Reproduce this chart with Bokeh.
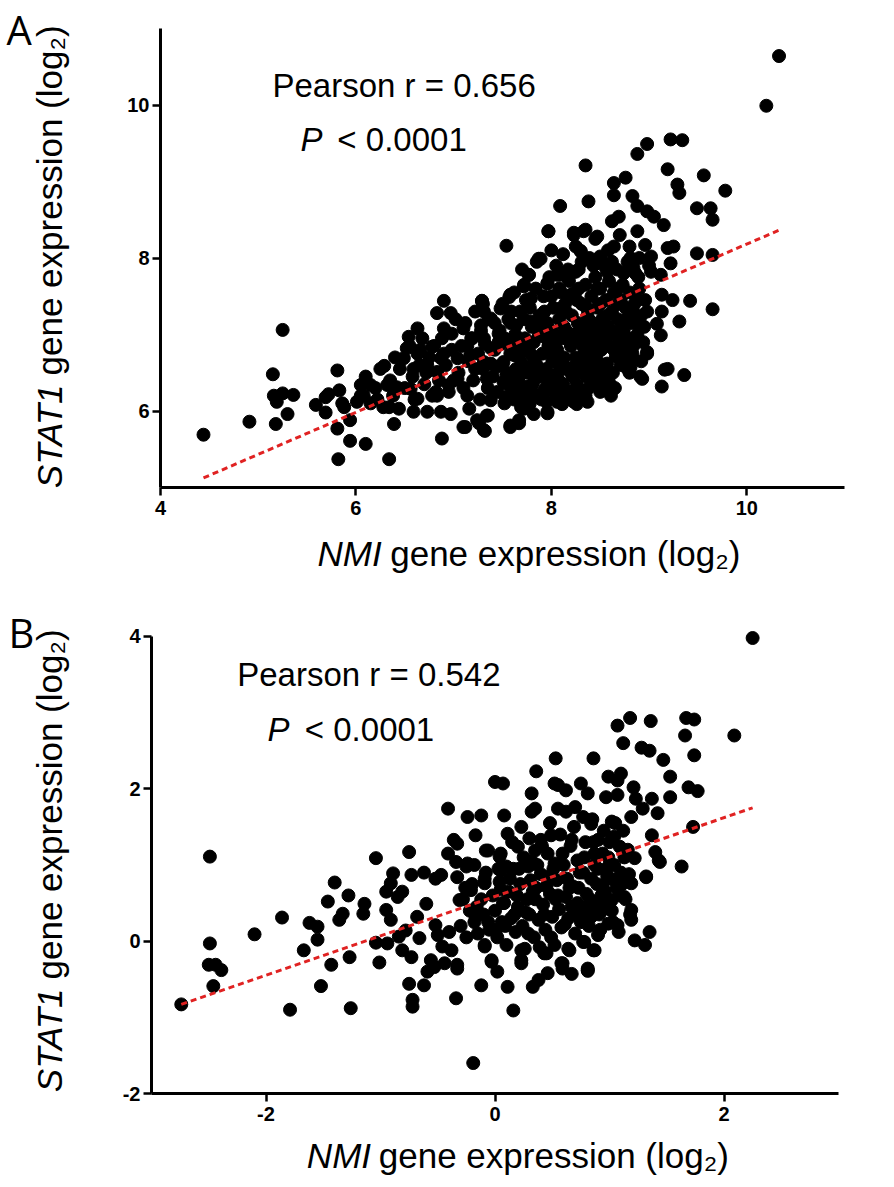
from bokeh.plotting import figure
from bokeh.layouts import column, row
from bokeh.models import Label, Range1d, FixedTicker
from bokeh.embed import file_html
from bokeh.resources import INLINE

# ---------------- Panel A data (NMI vs STAT1, log2) ----------------
a_left_x = [4.44, 4.91, 5.25, 5.15, 5.18, 5.30, 5.16, 5.25, 5.36, 5.19,
            5.59, 5.69, 5.69, 5.81, 5.83, 5.86, 5.81, 5.94, 5.82, 5.94,
            6.10, 6.34, 6.39, 6.01, 6.05, 6.15, 6.08, 6.29, 6.32, 6.42,
            6.34, 6.44, 6.05, 6.10, 6.15, 6.20, 6.25, 6.28, 6.35, 6.38,
            6.40, 5.72, 5.88, 6.22]
a_left_y = [5.69, 5.86, 7.06, 6.48, 5.83, 5.96, 6.20, 6.23, 6.21, 6.12,
            6.08, 6.18, 5.98, 6.53, 6.27, 6.10, 5.77, 5.88, 5.37, 5.61,
            5.57, 5.37, 5.83, 6.12, 6.34, 6.34, 6.20, 6.59, 6.34, 6.31,
            6.05, 6.03, 6.20, 6.45, 6.10, 6.30, 6.55, 6.05, 6.40, 6.20,
            6.70, 6.22, 6.05, 6.15]

a_mid_x = [6.49, 6.54, 6.63, 6.52, 6.63, 6.59, 6.56, 6.63, 6.59, 6.73,
           6.78, 6.73, 6.83, 6.87, 6.83, 6.90, 6.97, 6.90, 6.98, 6.88,
           6.83, 6.87, 6.97, 6.95, 7.04, 7.04, 7.10, 7.10, 7.17, 7.14,
           7.16, 7.19, 7.24, 7.31, 7.34, 7.29, 7.31, 7.38, 7.28, 7.31,
           7.38, 7.31, 7.34, 7.38, 7.12, 7.32, 7.26, 7.35, 6.45, 6.50,
           6.55, 6.60, 6.65, 6.68, 6.70, 6.75, 6.78, 6.80, 6.85, 6.88,
           6.92, 6.95, 6.98, 7.05, 7.08, 7.10, 7.12, 7.15, 7.18, 7.20,
           7.22, 7.25, 7.27, 7.28, 7.30, 7.32, 7.35, 7.36, 7.38,
           6.58, 6.66, 6.72, 6.82, 6.90, 7.00, 7.02, 7.14, 7.22, 7.30]
a_mid_y = [6.69, 6.97, 7.08, 6.82, 6.75, 6.55, 6.29, 6.16, 5.99, 5.99,
           6.84, 6.60, 6.51, 6.69, 7.28, 7.44, 7.28, 7.08, 7.01, 5.64,
           6.20, 5.99, 5.96, 6.34, 6.69, 6.42, 5.79, 7.08, 6.73, 6.20,
           6.03, 6.95, 5.88, 5.75, 5.94, 7.44, 7.30, 7.21, 7.12, 6.95,
           6.82, 6.64, 6.42, 6.14, 5.79, 5.74, 5.84, 5.94, 6.55, 6.30,
           6.85, 6.15, 6.60, 6.95, 6.35, 6.70, 6.20, 6.85, 6.40, 6.95,
           6.60, 6.25, 6.80, 6.50, 6.85, 6.30, 7.15, 6.65, 6.95, 6.40,
           7.30, 6.75, 6.15, 7.05, 6.55, 6.88, 6.30, 7.20, 6.62,
           6.45, 6.80, 6.50, 6.25, 6.75, 6.40, 7.20, 6.85, 6.55, 7.40]

a_core_x = [7.48, 7.57, 7.54, 7.46, 7.58, 7.62, 7.51, 7.51, 7.58, 7.58,
            7.67, 7.72, 7.68, 7.72, 7.77, 7.87, 7.97, 7.79, 7.79, 7.80,
            7.82, 7.82, 7.82, 7.96, 7.96, 8.06, 8.23, 8.33, 8.30, 8.25,
            8.09, 7.99, 8.06, 8.09, 8.06, 8.23, 8.31, 8.23, 8.30, 8.20,
            8.43, 8.40, 8.40, 7.58, 7.67, 7.96, 7.76, 8.11, 8.26, 8.37,
            7.88,
            7.40, 7.42, 7.45, 7.47, 7.50, 7.52, 7.55, 7.56, 7.58, 7.60,
            7.62, 7.63, 7.65, 7.66, 7.68, 7.70, 7.71, 7.73, 7.74, 7.76,
            7.77, 7.78, 7.80, 7.81, 7.82, 7.84, 7.85, 7.86, 7.88, 7.89,
            7.90, 7.91, 7.92, 7.94, 7.95, 7.96, 7.97, 7.98, 8.00, 8.01,
            8.02, 8.03, 8.04, 8.05, 8.06, 8.07, 8.08, 8.10, 8.11, 8.12,
            8.13, 8.14, 8.15, 8.16, 8.18, 8.19, 8.20, 8.21, 8.22, 8.23,
            8.24, 8.25, 8.26, 8.27, 8.28, 8.29, 8.30, 8.31, 8.32, 8.33,
            8.34, 8.35, 8.36, 8.37, 8.38, 8.39, 8.40, 8.41, 8.42, 8.43,
            8.44, 8.45, 8.46, 8.47, 8.48, 8.49, 8.50, 8.51, 8.52, 8.53,
            8.54, 8.55, 8.56, 8.57, 8.58, 8.59, 8.60, 8.62, 8.63, 8.64,
            8.65, 8.66, 8.67, 8.68, 8.70, 8.71, 8.72, 8.73, 8.74, 8.75,
            8.76, 8.78, 8.79, 8.80, 8.82, 8.83, 8.85, 8.86, 8.88, 8.90,
            8.92, 8.94, 8.96]
a_core_y = [7.34, 7.49, 8.16, 7.01, 7.15, 6.73, 6.64, 6.38, 6.20, 5.81,
            5.88, 6.03, 6.47, 7.63, 7.78, 7.99, 8.35, 7.47, 7.17, 6.73,
            6.47, 6.20, 5.96, 5.99, 7.67, 7.78, 8.30, 8.35, 8.09, 7.82,
            7.34, 6.95, 6.64, 6.38, 6.12, 6.12, 6.16, 6.95, 6.51, 7.52,
            6.47, 6.73, 7.17, 5.79, 5.84, 5.97, 6.04, 6.09, 6.09, 6.12,
            6.20,
            6.45, 6.80, 6.25, 7.05, 6.60, 6.95, 6.35, 7.20, 6.75, 6.50,
            6.15, 7.00, 6.88, 6.40, 7.30, 6.62, 6.25, 6.95, 7.45, 6.50,
            6.78, 6.10, 7.10, 6.35, 6.90, 7.60, 6.60, 6.20, 7.25, 6.45,
            7.00, 6.75, 7.50, 6.30, 6.55, 7.15, 6.85, 7.75, 6.40, 6.65,
            7.35, 7.00, 6.22, 7.90, 6.80, 6.50, 7.20, 7.55, 6.95, 6.35,
            6.70, 7.40, 7.05, 6.55, 7.70, 6.25, 6.85, 7.25, 6.45, 7.00,
            7.55, 6.70, 6.35, 7.15, 7.85, 6.90, 6.55, 7.40, 6.20, 7.05,
            6.75, 7.65, 6.45, 7.25, 6.95, 8.00, 6.60, 7.50, 6.85, 7.10,
            6.35, 7.75, 6.70, 7.35, 6.50, 7.00, 7.60, 6.80, 7.20, 6.40,
            7.90, 6.95, 7.45, 6.62, 7.10, 7.70, 6.85, 7.30, 6.50, 7.55,
            7.00, 6.72, 7.85, 7.20, 6.90, 7.45, 6.60, 7.65, 7.05, 6.80,
            7.35, 7.95, 6.95, 7.55, 7.15, 6.75, 7.40, 7.80, 7.00, 7.60,
            7.25, 6.90, 7.45]

a_fill_x = [7.44, 7.49, 7.53, 7.57, 7.61, 7.64, 7.67, 7.69, 7.72, 7.75,
            7.79, 7.83, 7.87, 7.90, 7.93, 7.97, 8.00, 8.03, 8.05, 8.08,
            8.12, 8.15, 8.18, 8.20, 8.23, 8.26, 8.29, 8.32, 8.35, 8.38,
            8.41, 8.44, 8.47, 8.50, 8.53, 8.56, 8.59, 8.62, 8.65, 8.68,
            8.71, 8.74, 8.77, 8.80, 8.83, 8.86, 8.89, 8.92, 8.95, 8.98,
            7.42, 7.50, 7.62, 7.70, 7.85, 8.00, 8.12, 8.25, 8.45, 8.58,
            8.70, 8.80, 8.90, 9.00,
            7.46, 7.54, 7.59, 7.64, 7.69, 7.74, 7.78, 7.83, 7.87, 7.92,
            7.95, 8.00, 8.04, 8.09, 8.13, 8.17, 8.21, 8.25, 8.28, 8.32,
            8.36, 8.39, 8.43, 8.46, 8.50, 8.54, 8.57, 8.61, 8.64, 8.68,
            8.72, 8.76, 8.80, 8.84, 8.88, 7.52, 7.95, 8.35, 8.60, 8.15]
a_fill_y = [6.58, 6.88, 6.18, 6.92, 6.30, 7.12, 6.70, 6.05, 7.20, 6.32,
            6.58, 6.42, 6.98, 6.15, 7.30, 6.48, 7.05, 6.72, 6.32, 7.60,
            6.60, 7.30, 6.95, 6.15, 6.58, 7.45, 6.28, 6.85, 7.12, 6.30,
            7.00, 6.58, 7.60, 6.25, 7.05, 6.85, 6.45, 7.95, 6.30, 7.40,
            6.62, 7.80, 7.20, 6.50, 7.35, 6.95, 7.75, 6.65, 7.10, 7.30,
            7.15, 7.40, 7.55, 7.85, 7.95, 8.10, 8.05, 8.15, 8.25, 8.10,
            8.30, 8.15, 8.00, 7.90,
            6.90, 6.48, 7.30, 6.55, 6.85, 6.15, 7.35, 6.68, 7.10, 6.25,
            6.95, 7.50, 6.90, 6.28, 7.10, 7.85, 6.48, 7.00, 7.60, 6.62,
            7.35, 6.85, 7.90, 6.95, 7.40, 6.60, 7.25, 7.05, 6.80, 7.60,
            7.10, 6.65, 7.25, 6.85, 7.45, 6.10, 6.12, 6.20, 6.35, 6.20]

a_upper_x = [10.33, 10.20, 8.98, 8.88, 9.22, 9.34, 8.35, 9.19, 9.56, 8.76,
             8.64, 9.29, 9.31, 9.78, 8.64, 8.83, 8.09, 8.38, 9.49, 8.88,
             8.98, 9.05, 9.65, 8.69, 8.62, 9.15, 8.88, 7.97, 8.23, 8.35,
             8.47, 8.64, 8.96, 9.19, 9.25, 9.49, 9.65, 8.30, 7.89, 8.31,
             8.50, 8.81, 9.02, 9.22, 8.84, 8.23, 7.77, 8.09, 8.57, 9.02,
             9.12, 7.96, 7.72, 7.58, 7.29, 9.42, 9.65, 9.24, 9.13, 9.13,
             9.31, 9.08, 9.12, 8.91, 8.84, 8.98, 8.81, 9.19, 9.36, 8.91,
             8.50, 8.78, 9.16, 9.13, 8.93, 8.81, 8.84, 8.98, 8.61, 8.55,
             8.49, 9.63]
a_upper_y = [10.64, 9.99, 9.49, 9.36, 9.55, 9.54, 9.21, 9.16, 9.08, 9.05,
             8.98, 8.96, 8.85, 8.88, 8.82, 8.81, 8.68, 8.74, 8.65, 8.68,
             8.61, 8.54, 8.50, 8.54, 8.48, 8.43, 8.35, 8.35, 8.33, 8.37,
             8.28, 8.15, 8.17, 8.13, 8.15, 8.06, 8.04, 8.09, 7.99, 7.95,
             8.02, 8.00, 8.02, 7.93, 7.87, 7.82, 7.78, 7.78, 7.82, 7.82,
             7.78, 7.67, 7.65, 7.52, 7.44, 7.44, 7.33, 7.45, 7.52, 7.30,
             7.17, 7.14, 6.99, 7.10, 6.90, 6.75, 6.69, 6.55, 6.47, 6.45,
             6.47, 6.55, 6.54, 6.32, 6.42, 6.57, 6.67, 6.77, 6.20, 6.32,
             6.37, 8.65]

# regression line (slope, intercept)
a_fit = (0.5498, 2.684)

# ---------------- Panel B data ----------------
b_outer_x = [-2.74, -2.49, -2.49, -2.50, -2.44, -2.39, -2.46, -2.10, -1.86, -1.79,
             -1.62, -1.55, -1.55, -1.67, -1.52, -1.43, -1.46, -1.40, -1.28, -1.33,
             -1.36, -1.27, -1.26, -1.14, -1.15, -1.04, -1.04, -1.01, -0.95, -0.89,
             -0.91, -0.85, -0.81, -0.95, -0.91, -0.94, -0.84, -0.81, -0.75, -0.73,
             -0.78, -0.73, -0.75, -0.72, -0.72, -0.62, -0.68, -0.66, -0.62, -0.60,
             -0.52, -0.47, -0.52, -0.50, -0.56, -0.59, -0.53, -0.44, -0.46, -0.41,
             -0.41, -0.36, -0.40, -0.38, -0.33, -0.34, -0.31, -0.33, -0.25, -0.24,
             -0.17, -0.12, -0.19, -0.12, -0.09, -0.03, 0.02, -0.08, -0.09, -0.21,
             -0.17, 0.00, 0.07, 0.08, 0.04, 0.10, 0.11, 0.16, 0.23, 0.23,
             0.32, 0.36, 0.33, 0.38, 0.45, 0.46, 0.53, 0.52, 0.59, 0.65,
             0.81, 0.77, 0.87, 0.86]
b_outer_y = [-0.83, 1.11, -0.03, -0.31, -0.31, -0.38, -0.59, 0.09, 0.31, -0.90,
             0.24, 0.19, 0.02, -0.12, -0.59, -0.31, 0.52, 0.77, 0.60, 0.36,
             0.28, -0.21, -0.88, 0.49, 0.36, 1.09, -0.02, -0.28, 0.65, 0.89,
             0.76, 0.58, 0.65, 0.41, 0.28, -0.03, 0.06, -0.12, 1.17, 0.87,
             0.14, -0.21, -0.56, -0.77, -0.86, 0.90, 0.32, 0.04, -0.58, 0.49,
             0.82, 0.87, 0.21, 0.08, -0.25, -0.40, -0.34, -0.29, -0.07, 1.74,
             1.15, 1.33, 0.12, -0.12, -0.36, -0.75, 0.54, 0.84, 0.98, 1.63,
             1.39, 1.65, -1.60, -0.58, -0.05, -0.25, -0.40, 1.19, 0.76, 0.67,
             0.32, 2.09, 2.07, 1.65, 1.11, 0.98, -0.60, -0.91, -0.29, -0.12,
             1.94, 2.23, -0.60, -0.51, -0.16, -0.42, 2.40, 2.07, -0.29, -0.12,
             -0.38, -0.01, -0.12, 2.40]

b_right_x = [1.18, 1.07, 1.36, 1.67, 1.74, 1.66, 2.09, 1.12, 1.28, 1.35,
             1.74, 1.47, 1.53, 0.99, 1.10, 0.55, 0.62, 0.75, 0.81, 1.07,
             1.21, 0.97, 1.07, 1.69, 1.77, 1.23, 1.37, 1.53, 0.32, 0.55,
             0.70, 0.35, 1.29, 1.42, 1.19, 0.77, 0.84, 1.02, 1.73, 0.23,
             0.11, 0.40, 0.49, 0.67, 0.90, 1.04, 1.37, 1.40, 1.44, 1.63,
             1.32, 1.22, 1.09, -0.06, 0.05, 0.20, 0.35, -0.33, -0.34, -0.24,
             -0.09, 0.05, 0.29, 0.52, 0.72, 0.87, 0.99, 1.19, 1.13, 1.19,
             1.19, 1.07, 1.35, 1.22, 1.31, 0.90, 0.78, 0.86, 0.64, 0.43,
             0.58, 0.81, 0.23, -0.09, -0.03, -0.33, 2.25, 1.43, 1.32, 0.94,
             1.02, 1.09, 0.94, 0.84, 0.99, 0.67, 0.59, 0.81]
b_right_y = [2.93, 2.83, 2.89, 2.93, 2.91, 2.70, 2.70, 2.60, 2.54, 2.50,
             2.44, 2.38, 2.16, 2.16, 2.20, 2.05, 1.98, 2.07, 1.94, 2.11,
             2.02, 1.89, 1.92, 2.02, 1.97, 1.87, 1.87, 1.89, 1.70, 1.74,
             1.76, 1.74, 1.74, 1.68, 1.63, 1.63, 1.54, 1.57, 1.50, 1.50,
             1.41, 1.33, 1.39, 1.33, 1.33, 1.37, 1.39, 1.17, 1.04, 0.98,
             0.85, 1.09, 1.24, 1.19, 1.15, 1.24, 1.19, 1.28, 1.04, 1.02,
             0.82, 0.93, 0.98, 1.02, 1.06, 1.15, 0.98, 0.76, 0.58, 0.41,
             0.28, 0.21, 0.12, 0.01, -0.05, 0.08, -0.01, -0.12, -0.10, -0.16,
             -0.29, -0.36, -0.25, -0.07, -0.27, -0.31, 3.98, 1.06, 0.84, 0.71,
             0.54, 0.76, 0.41, 0.32, 0.23, -0.43, -0.36, -0.39]

b_core_x = [-0.30, -0.28, -0.25, -0.22, -0.20, -0.18, -0.15, -0.12, -0.10, -0.08,
            -0.05, -0.02, 0.00, 0.02, 0.04, 0.06, 0.08, 0.10, 0.12, 0.14,
            0.16, 0.18, 0.20, 0.22, 0.24, 0.26, 0.28, 0.30, 0.32, 0.34,
            0.36, 0.38, 0.40, 0.42, 0.44, 0.46, 0.48, 0.50, 0.52, 0.54,
            0.56, 0.58, 0.60, 0.62, 0.64, 0.66, 0.68, 0.70, 0.72, 0.74,
            0.76, 0.78, 0.80, 0.82, 0.84, 0.86, 0.88, 0.90, 0.92, 0.94,
            0.96, 0.98, 1.00, 1.02, 1.04, 1.06, 1.08, 1.10, 1.12, 1.14,
            1.16, 1.18]
b_core_y = [0.20, 0.55, 0.05, 0.40, 0.75, 0.25, 0.10, 0.55, 0.35, 0.90,
            0.15, 0.60, 0.40, 0.05, 0.78, 0.25, 0.50, -0.05, 0.65, 0.30,
            0.95, 0.12, 0.45, 0.75, 0.20, -0.10, 0.55, 0.35, 1.05, 0.05,
            0.70, 0.28, 0.88, 0.48, 0.15, 1.15, 0.62, 0.32, -0.05, 0.80,
            0.42, 0.18, 1.00, 0.58, 0.30, 1.25, 0.72, 0.10, 0.50, 0.90,
            0.35, 1.10, 0.62, 0.20, 0.82, 1.30, 0.48, 0.95, 0.15, 1.15,
            0.65, 0.85, 1.30, 0.40, 1.00, 0.70, 0.12, 0.90, 1.45, 0.55,
            1.20, 0.35]

b_fill_x = [-0.26, -0.16, -0.06, 0.03, 0.09, 0.13, 0.19, 0.25, 0.27, 0.31,
            0.35, 0.39, 0.41, 0.45, 0.49, 0.51, 0.55, 0.57, 0.61, 0.63,
            0.67, 0.69, 0.73, 0.75, 0.79, 0.83, 0.85, 0.89, 0.91, 0.95,
            0.97, 1.01, 1.05, 1.09, 1.13, 1.17, 0.48, 0.62, 0.30, 0.15,
            -0.18, 0.05,
            0.01, 0.07, 0.17, 0.21, 0.29, 0.33, 0.37, 0.43, 0.47, 0.53,
            0.59, 0.65, 0.71, 0.77, 0.81, 0.87, 0.93, 0.99, 1.03, 1.11]
b_fill_y = [0.70, 0.45, 0.25, 0.95, 0.20, 0.82, 0.60, 1.10, 0.38, 0.80,
            0.55, -0.08, 1.25, 0.72, 0.05, 0.95, 0.60, 1.40, 0.22, 0.82,
            0.45, 1.50, 0.70, 0.25, 1.30, 0.55, 1.60, 0.75, 0.35, 1.45,
            0.50, 0.82, 1.55, 0.60, 1.10, 0.88, 1.55, 1.70, 1.35, 1.30,
            1.00, 0.68,
            0.15, 0.50, 0.35, 0.95, 0.10, 0.65, 1.00, 0.35, 0.85, 0.55,
            1.15, 0.70, 0.35, 0.90, 0.45, 1.00, 0.60, 1.10, 0.25, 0.75]

b_fit = (0.5172, 0.587)

# ---------------- styling ----------------
FONT = "Liberation Sans"
LETTER_FONT = "Open Sans"
RED = "#e02222"


def style_axes(p, xticks, yticks, xb, yb):
    p.xgrid.visible = False
    p.ygrid.visible = False
    p.outline_line_color = None
    p.background_fill_color = "white"
    p.border_fill_color = "white"
    p.xaxis.ticker = FixedTicker(ticks=xticks)
    p.yaxis.ticker = FixedTicker(ticks=yticks)
    p.xaxis.bounds = xb
    p.yaxis.bounds = yb
    for ax in (p.xaxis, p.yaxis):
        ax.axis_line_width = 3
        ax.axis_line_color = "black"
        ax.major_tick_line_width = 2.5
        ax.major_tick_line_color = "black"
        ax.major_tick_out = 8
        ax.major_tick_in = 0
        ax.minor_tick_line_color = None
        ax.major_label_text_font = FONT
        ax.major_label_text_font_style = "bold"
        ax.major_label_text_font_size = "20px"
        ax.major_label_text_color = "black"
        ax.major_label_overrides = {t: str(t) for t in (xticks + yticks) if t < 0}
    p.xaxis.major_label_standoff = 5
    p.yaxis.major_label_standoff = 3


def lab(p, x, y, text, size, style="normal", angle=0.0, align="left", font=FONT):
    p.add_layout(Label(x=x, y=y, text=text, text_font=font, text_font_size=size,
                       text_font_style=style, angle=angle, text_align=align,
                       text_baseline="alphabetic", text_color="black"))


def strip(w, h):
    # blank figure whose frame covers the whole canvas (pixel data units)
    s = figure(width=w, height=h, x_range=Range1d(0, w), y_range=Range1d(0, h),
               x_axis_location=None, y_axis_location=None,
               output_backend="svg", toolbar_location=None,
               min_border_left=0, min_border_right=0,
               min_border_top=0, min_border_bottom=0)
    s.xgrid.visible = False
    s.ygrid.visible = False
    s.outline_line_color = None
    s.background_fill_color = "white"
    s.border_fill_color = "white"
    return s


def panel(xs, ys, fit, xr, yr, xb, yb, xticks, yticks, w, h, borders):
    bl, br, bt, bb_ = borders
    p = figure(width=w, height=h, x_range=Range1d(*xr), y_range=Range1d(*yr),
               output_backend="svg", toolbar_location=None,
               min_border_left=bl, min_border_right=br,
               min_border_top=bt, min_border_bottom=bb_)
    style_axes(p, xticks, yticks, xb, yb)
    allx = [v for arr in xs for v in arr]
    ally = [v for arr in ys for v in arr]
    p.scatter(allx, ally, marker="circle", size=13, fill_color="black",
              line_color="black")
    x0, x1 = min(allx), max(allx)
    slope, icpt = fit
    p.line([x0, x1], [slope * x0 + icpt, slope * x1 + icpt], line_color=RED,
           line_width=3, line_dash="6 4")
    return p


# ----- Panel A -----
pa = panel([a_left_x, a_mid_x, a_core_x, a_fill_x, a_upper_x],
           [a_left_y, a_mid_y, a_core_y, a_fill_y, a_upper_y],
           a_fit, (4, 11), (5, 11), (4, 11), (5, 11),
           [4, 6, 8, 10], [6, 8, 10],
           798, 527, (72, 42, 28, 40))
lab(pa, 5.146, 10.25, "Pearson r = 0.656", "33px")
lab(pa, 5.433, 9.55, "P", "33px", style="italic")
lab(pa, 5.81, 9.55, "< 0.0001", "33px")

la = strip(88, 600)
lab(la, 6, 571, "A", "40px", font=LETTER_FONT)
lab(la, 49, 216, "STAT1", "35px", style="italic", angle=1.5708, align="right")
lab(la, 49, 225, "gene expression (log\u2082)", "35px", angle=1.5708)

ba = strip(798, 73)
lab(ba, 258, 47, "NMI", "35px", style="italic", align="right")
lab(ba, 268, 47, "gene expression (log\u2082)", "35px")

# ----- Panel B -----
pb = panel([b_outer_x, b_right_x, b_core_x, b_fill_x],
           [b_outer_y, b_right_y, b_core_y, b_fill_y],
           b_fit, (-3, 3), (-2, 4.105), (-3, 3), (-2, 4),
           [-2, 0, 2], [-2, 0, 2, 4],
           798, 527, (63, 48, 28, 34))
lab(pb, -2.251, 3.50, "Pearson r = 0.542", "33px")
lab(pb, -1.987, 2.78, "P", "33px", style="italic")
lab(pb, -1.661, 2.78, "< 0.0001", "33px")

lb = strip(88, 587)
lab(lb, 8, 555, "B", "40px", font=LETTER_FONT)
lab(lb, 49, 199, "STAT1", "35px", style="italic", angle=1.5708, align="right")
lab(lb, 49, 208, "gene expression (log\u2082)", "35px", angle=1.5708)

bb = strip(798, 60)
lab(bb, 255, 32, "NMI", "35px", style="italic", align="right")
lab(bb, 264, 32, "gene expression (log\u2082)", "35px")

layout = column(row(la, column(pa, ba, spacing=0), spacing=0),
                row(lb, column(pb, bb, spacing=0), spacing=0),
                spacing=0)
open("out.html", "w").write(file_html(layout, INLINE))
